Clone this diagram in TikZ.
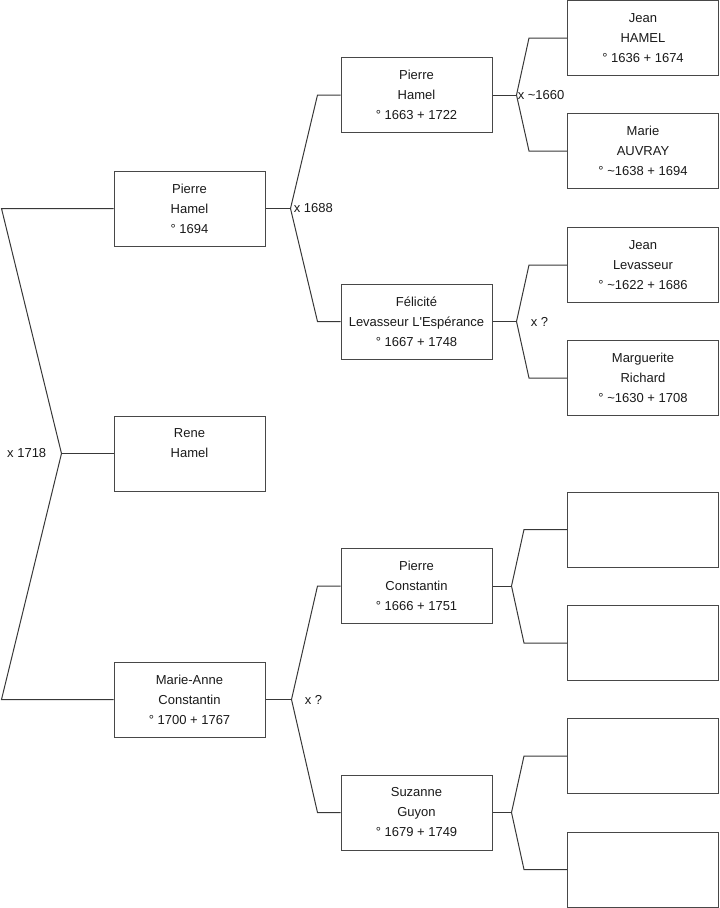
\documentclass[tikz,border=0pt]{standalone}
\usepackage{fontspec}
\setmainfont{Liberation Sans}[Ligatures=TeXOff]
\usepackage{tikz}
\usetikzlibrary{positioning, calc}
\definecolor{LineGrey}{HTML}{383838}
\definecolor{BoxGrey}{HTML}{484848}
\definecolor{TextGrey}{HTML}{1A1A1A}
\tikzset{
  % Person box
  person/.style={
    rectangle, draw=BoxGrey, line width=0.75pt,
    fill=white, minimum width=113.25pt,
    minimum height=56.25pt, inner sep=0pt,
    align=center, text=TextGrey,
    font=\fontsize{9.75}{15}\selectfont
  },
  % Tree line
  link/.style={
    draw=LineGrey, line width=0.75pt
  },
  % Marriage label
  wed/.style={
    inner sep=0pt, text=TextGrey,
    font=\fontsize{9.75}{15}\selectfont
  }
}

\begin{document}
\begin{tikzpicture}[x=0.75pt, y=-0.75pt]

\useasboundingbox (0,0) rectangle (719,908);

% ── generation 1 ─────────────────────────────
\node[person] (pierre_h) at (189.5,208.5)
  {Pierre\\Hamel\\° 1694};
\node[person] (rene_h) at (189.5,453.5)
  {Rene\\Hamel\\\mbox{}};
\node[person] (marie_anne) at (189.5,699.5)
  {Marie-Anne\\Constantin\\° 1700 + 1767};

% ── generation 2 ─────────────────────────────
\node[person] (pierre_h_sr) at (416.5,95)
  {Pierre\\Hamel\\° 1663 + 1722};
\node[person] (felicite) at (416.5,321.5)
  {Félicité\\Levasseur L'Espérance\\° 1667 + 1748};
\node[person] (pierre_c) at (416.5,586)
  {Pierre\\Constantin\\° 1666 + 1751};
\node[person] (suzanne_g) at (416.5,812.5)
  {Suzanne\\Guyon\\° 1679 + 1749};

% ── generation 3 ─────────────────────────────
\node[person] (jean_h) at (643,38)
  {Jean\\HAMEL\\° 1636 + 1674};
\node[person] (marie_a) at (643,151)
  {Marie\\AUVRAY\\° \textasciitilde1638 + 1694};
\node[person] (jean_l) at (643,265)
  {Jean\\Levasseur\\° \textasciitilde1622 + 1686};
\node[person] (marguerite_r) at (643,378)
  {Marguerite\\Richard\\° \textasciitilde1630 + 1708};
\node[person] (unk_1) at (643,529.5) {};
\node[person] (unk_2) at (643,643) {};
\node[person] (unk_3) at (643,756) {};
\node[person] (unk_4) at (643,869.5) {};

% ── forks ────────────────────────────────────
\draw[link] (pierre_h.west) -- ++(-112,0)
  -- ($(rene_h.west)+(-52,0)$) coordinate (v_root)
  -- ($(marie_anne.west)+(-112,0)$) -- (marie_anne.west);
\draw[link] (v_root) -- (rene_h.west);

\draw[link] (pierre_h.east) -- ++(25,0) coordinate (v_ph);
\draw[link] (pierre_h_sr.west) -- ++(-23,0) -- (v_ph)
  -- ($(felicite.west)+(-23,0)$) -- (felicite.west);

\draw[link] (marie_anne.east) -- ++(26,0) coordinate (v_ma);
\draw[link] (pierre_c.west) -- ++(-23,0) -- (v_ma)
  -- ($(suzanne_g.west)+(-23,0)$) -- (suzanne_g.west);

\draw[link] (pierre_h_sr.east) -- ++(24,0) coordinate (v_phs);
\draw[link] (jean_h.west) -- ++(-38,0) -- (v_phs)
  -- ($(marie_a.west)+(-38,0)$) -- (marie_a.west);

\draw[link] (felicite.east) -- ++(24,0) coordinate (v_fe);
\draw[link] (jean_l.west) -- ++(-38,0) -- (v_fe)
  -- ($(marguerite_r.west)+(-38,0)$) -- (marguerite_r.west);

\draw[link] (pierre_c.east) -- ++(19,0) coordinate (v_pc);
\draw[link] (unk_1.west) -- ++(-43,0) -- (v_pc)
  -- ($(unk_2.west)+(-43,0)$) -- (unk_2.west);

\draw[link] (suzanne_g.east) -- ++(19,0) coordinate (v_sg);
\draw[link] (unk_3.west) -- ++(-43,0) -- (v_sg)
  -- ($(unk_4.west)+(-43,0)$) -- (unk_4.west);

% ── marriage labels ──────────────────────────
\node[wed, anchor=east] (m_root) at ($(v_root)+(-15,0)$) {x 1718};
\node[wed, anchor=west] (m_ph) at ($(v_ph)+(3,0)$) {x 1688};
\node[wed, anchor=west] (m_phs) at ($(v_phs)+(1,0)$) {x \textasciitilde1660};
\node[wed, anchor=west] (m_fe) at ($(v_fe)+(14,0)$) {x ?};
\node[wed, anchor=west] (m_ma) at ($(v_ma)+(13,0)$) {x ?};

\end{tikzpicture}
\end{document}
